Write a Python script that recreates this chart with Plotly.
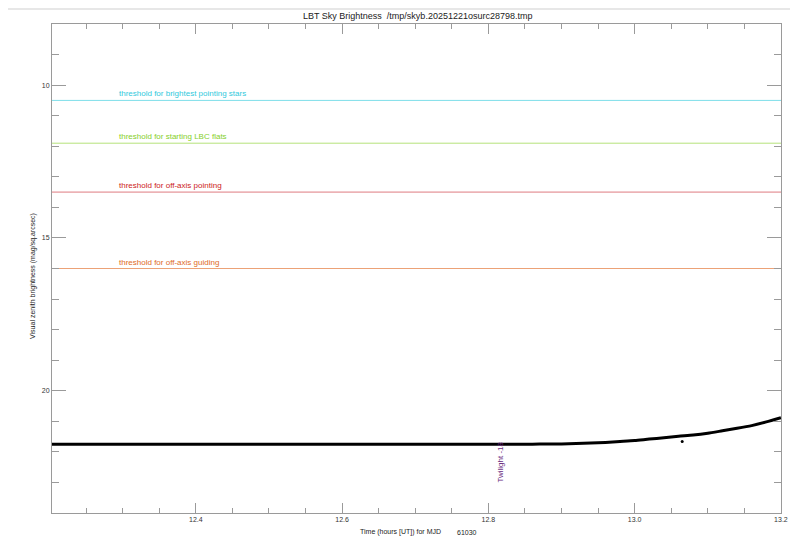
import plotly.graph_objects as go

# ---- data ----
time_hours = [12.2033, 12.22, 12.24, 12.26, 12.28, 12.30, 12.32, 12.34, 12.36, 12.38,
              12.40, 12.42, 12.44, 12.46, 12.48, 12.50, 12.52, 12.54, 12.56, 12.58,
              12.60, 12.62, 12.64, 12.66, 12.68, 12.70, 12.72, 12.74, 12.76, 12.78,
              12.80, 12.82, 12.84, 12.86, 12.88, 12.90, 12.92, 12.94, 12.96, 12.98,
              13.00, 13.02, 13.04, 13.06, 13.08, 13.10, 13.12, 13.14, 13.16, 13.18, 13.20]
sky_mag = [21.75, 21.75, 21.75, 21.75, 21.75, 21.75, 21.75, 21.75, 21.75, 21.75,
           21.75, 21.75, 21.75, 21.75, 21.75, 21.75, 21.75, 21.75, 21.75, 21.75,
           21.75, 21.75, 21.75, 21.75, 21.75, 21.75, 21.75, 21.75, 21.75, 21.75,
           21.75, 21.75, 21.75, 21.75, 21.74, 21.74, 21.73, 21.71, 21.69, 21.66,
           21.63, 21.58, 21.54, 21.49, 21.45, 21.39, 21.31, 21.23, 21.14, 21.02, 20.88]
outlier_time = [13.065]
outlier_mag = [21.66]

threshold_labels = ["threshold for brightest pointing stars",
                    "threshold for starting LBC flats",
                    "threshold for off-axis pointing",
                    "threshold for off-axis guiding"]
threshold_values = [10.5, 11.9, 13.5, 16.0]
threshold_colors = ["#2fc9dc", "#86cf2a", "#cc1a22", "#de6a1e"]
threshold_line_colors = ["#7fdfea", "#b5e27a", "#de7a80", "#eca277"]

twilight_time = 12.816
twilight_label = "Twilight -18"

x_range = [12.2033, 13.2001]
y_range = [24, 8]
x_ticks = [12.4, 12.6, 12.8, 13.0, 13.2]
x_ticktext = ["12.4", "12.6", "12.8", "13.0", "13.2"]
y_ticks = [10, 15, 20]
y_ticktext = ["10", "15", "20"]

title_text = "LBT Sky Brightness  /tmp/skyb.20251221osurc28798.tmp"
xlabel_text = "Time (hours [UT]) for MJD"
mjd_text = "61030"
ylabel_text = "Visual zenith brightness (mag/sq.arcsec)"

FONT = "Liberation Sans, Arial, sans-serif"
AXC = "#9a9a9a"

# body margin removed via post_script, so figure origin is the window origin
OFF = 0
PL, PT, PR, PB = 52 - OFF, 24 - OFF, 781 - OFF, 513 - OFF   # plot area in figure px
W, H = 791 - OFF, 539 - OFF
PW, PH = PR - PL, PB - PT


def px(xw):
    return (xw - OFF - PL) / PW


def py(yw):
    return 1 - (yw - OFF - PT) / PH


fig = go.Figure()

fig.add_trace(go.Scatter(x=time_hours, y=sky_mag, mode="lines",
                         line=dict(color="black", width=3, shape="spline", smoothing=0.6),
                         showlegend=False, hoverinfo="skip"))
fig.add_trace(go.Scatter(x=outlier_time, y=outlier_mag, mode="markers",
                         marker=dict(color="black", size=3), showlegend=False,
                         hoverinfo="skip"))

for lab, val, col, lcol in zip(threshold_labels, threshold_values, threshold_colors,
                               threshold_line_colors):
    fig.add_shape(type="line", xref="paper", x0=0, x1=1, yref="y", y0=val, y1=val,
                  line=dict(color=lcol, width=1), layer="below")
    fig.add_annotation(x=12.292, y=val, xref="x", yref="y", text=lab,
                       showarrow=False, xanchor="left", yanchor="bottom", yshift=0,
                       font=dict(family=FONT, size=8, color=col))

fig.add_annotation(x=twilight_time, y=23.08, xref="x", yref="y", text=twilight_label,
                   textangle=-90, showarrow=False, xanchor="center", yanchor="bottom",
                   font=dict(family=FONT, size=8, color="#6a2a7e"))

# top separator line
fig.add_shape(type="line", xref="paper", yref="paper", x0=px(8), x1=px(790),
              y0=py(9), y1=py(9), line=dict(color="#cfcfcf", width=1))

fig.add_annotation(x=px(417), y=py(16), xref="paper", yref="paper", text=title_text,
                   showarrow=False, xanchor="center", yanchor="middle",
                   font=dict(family=FONT, size=9, color="#222"))
fig.add_annotation(x=px(400.5), y=py(532), xref="paper", yref="paper",
                   text=xlabel_text, showarrow=False, xanchor="center", yanchor="middle",
                   font=dict(family=FONT, size=7, color="#222"))
fig.add_annotation(x=px(467), y=py(532), xref="paper", yref="paper",
                   text=mjd_text, showarrow=False, xanchor="center", yanchor="middle",
                   font=dict(family=FONT, size=7, color="#222"))
fig.add_annotation(x=px(33), y=py(276), xref="paper", yref="paper",
                   text=ylabel_text, textangle=-90, showarrow=False,
                   xanchor="center", yanchor="middle",
                   font=dict(family=FONT, size=7, color="#222"))

fig.update_xaxes(range=x_range, tickvals=x_ticks, ticktext=x_ticktext,
                 showgrid=False, zeroline=False, showline=True, linecolor=AXC,
                 linewidth=1, mirror="ticks", ticks="inside", ticklen=10,
                 tickcolor=AXC, tickwidth=1, ticklabeloverflow="allow",
                 tickfont=dict(family=FONT, size=7, color="#333"),
                 minor=dict(dtick=0.05, tick0=12.2, ticks="inside", ticklen=5,
                            tickcolor=AXC, showgrid=False))
fig.update_yaxes(range=y_range, tickvals=y_ticks, ticktext=y_ticktext,
                 showgrid=False, zeroline=False, showline=True, linecolor=AXC,
                 linewidth=1, mirror="ticks", ticks="inside", ticklen=14,
                 tickcolor=AXC, tickwidth=1,
                 tickfont=dict(family=FONT, size=7, color="#333"),
                 minor=dict(dtick=1, tick0=0, ticks="inside", ticklen=7,
                            tickcolor=AXC, showgrid=False))

fig.update_layout(width=W, height=H,
                  margin=dict(l=PL, r=W - PR, t=PT, b=H - PB, autoexpand=False),
                  paper_bgcolor="white", plot_bgcolor="white",
                  showlegend=False)

fig.write_html("out.html",
               config={"displayModeBar": False},
               post_script="document.body.style.margin='0';"
                           "document.body.style.overflow='hidden';")
